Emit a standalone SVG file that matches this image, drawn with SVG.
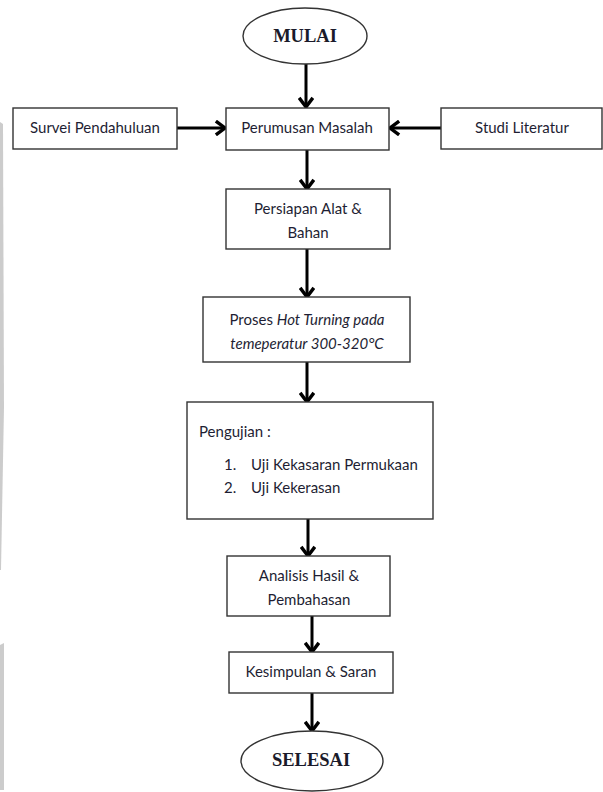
<svg xmlns="http://www.w3.org/2000/svg" width="603" height="792" viewBox="0 0 603 792">
<defs>
<marker id="ah" markerUnits="userSpaceOnUse" markerWidth="16" markerHeight="16" refX="10" refY="7" orient="auto" viewBox="0 0 14 14">
<path d="M2,1 L10,7 L2,13" fill="none" stroke="#000" stroke-width="3" stroke-linejoin="miter"/>
</marker>
</defs>
<style>
.box{fill:#fff;stroke:#333;stroke-width:1.4}
.t{font-family:Lato,"Open Sans","Liberation Sans",sans-serif;font-size:15px;fill:#1e1e33}
.m{text-anchor:middle}
.it{font-style:italic}
.term{font-family:"Liberation Serif","Times New Roman",serif;font-weight:bold;font-size:18.5px;fill:#1a1a2a;text-anchor:middle}
.c{stroke:#000;stroke-width:3;fill:none;marker-end:url(#ah)}
</style>
<rect width="603" height="792" fill="#fff"/>
<g id="edge-strip" fill="#cccccc">
<polygon points="0,122 3,124 4,407 1,570 0,570"/>
<polygon points="0,645 4,643 4,790 0,790"/>
</g>
<g id="connectors">
<line class="c" x1="306" y1="64" x2="306" y2="107"/>
<line class="c" x1="177" y1="128" x2="225" y2="128"/>
<line class="c" x1="441" y1="128" x2="390" y2="128"/>
<line class="c" x1="307" y1="150" x2="307" y2="189"/>
<line class="c" x1="307" y1="249" x2="307" y2="297"/>
<line class="c" x1="307" y1="362" x2="307" y2="402"/>
<line class="c" x1="308" y1="519" x2="308" y2="556"/>
<line class="c" x1="312" y1="616" x2="312" y2="652"/>
<line class="c" x1="312" y1="693" x2="312" y2="731"/>
</g>
<g id="mulai">
<ellipse cx="305" cy="36" rx="62" ry="28" class="box"/>
<text class="term" x="305" y="42">MULAI</text>
</g>
<g id="survei">
<rect class="box" x="13" y="108" width="164" height="41"/>
<text class="t m" x="95" y="133">Survei Pendahuluan</text>
</g>
<g id="perumusan">
<rect class="box" x="226" y="108" width="163" height="42"/>
<text class="t m" x="307" y="133">Perumusan Masalah</text>
</g>
<g id="studi">
<rect class="box" x="441" y="108" width="161" height="41"/>
<text class="t m" x="522" y="133">Studi Literatur</text>
</g>
<g id="persiapan">
<rect class="box" x="226" y="189" width="164" height="60"/>
<text class="t m" x="308" y="214">Persiapan Alat &amp;</text>
<text class="t m" x="308" y="238">Bahan</text>
</g>
<g id="proses">
<rect class="box" x="203" y="297" width="207" height="65"/>
<text class="t m" x="307" y="325">Proses <tspan class="it">Hot Turning pada</tspan></text>
<text class="t m it" x="307" y="349">temeperatur 300-320°C</text>
</g>
<g id="pengujian">
<rect class="box" x="187" y="402" width="246" height="117"/>
<text class="t" x="199" y="437">Pengujian :</text>
<text class="t" x="224" y="470">1.</text>
<text class="t" x="251" y="470">Uji Kekasaran Permukaan</text>
<text class="t" x="224" y="493">2.</text>
<text class="t" x="251" y="493">Uji Kekerasan</text>
</g>
<g id="analisis">
<rect class="box" x="227" y="556" width="163" height="60"/>
<text class="t m" x="309" y="581">Analisis Hasil &amp;</text>
<text class="t m" x="309" y="605">Pembahasan</text>
</g>
<g id="kesimpulan">
<rect class="box" x="229" y="652" width="164" height="41"/>
<text class="t m" x="311" y="677">Kesimpulan &amp; Saran</text>
</g>
<g id="selesai">
<ellipse cx="312" cy="761" rx="71" ry="30" class="box"/>
<text class="term" x="311" y="766">SELESAI</text>
</g>
</svg>
